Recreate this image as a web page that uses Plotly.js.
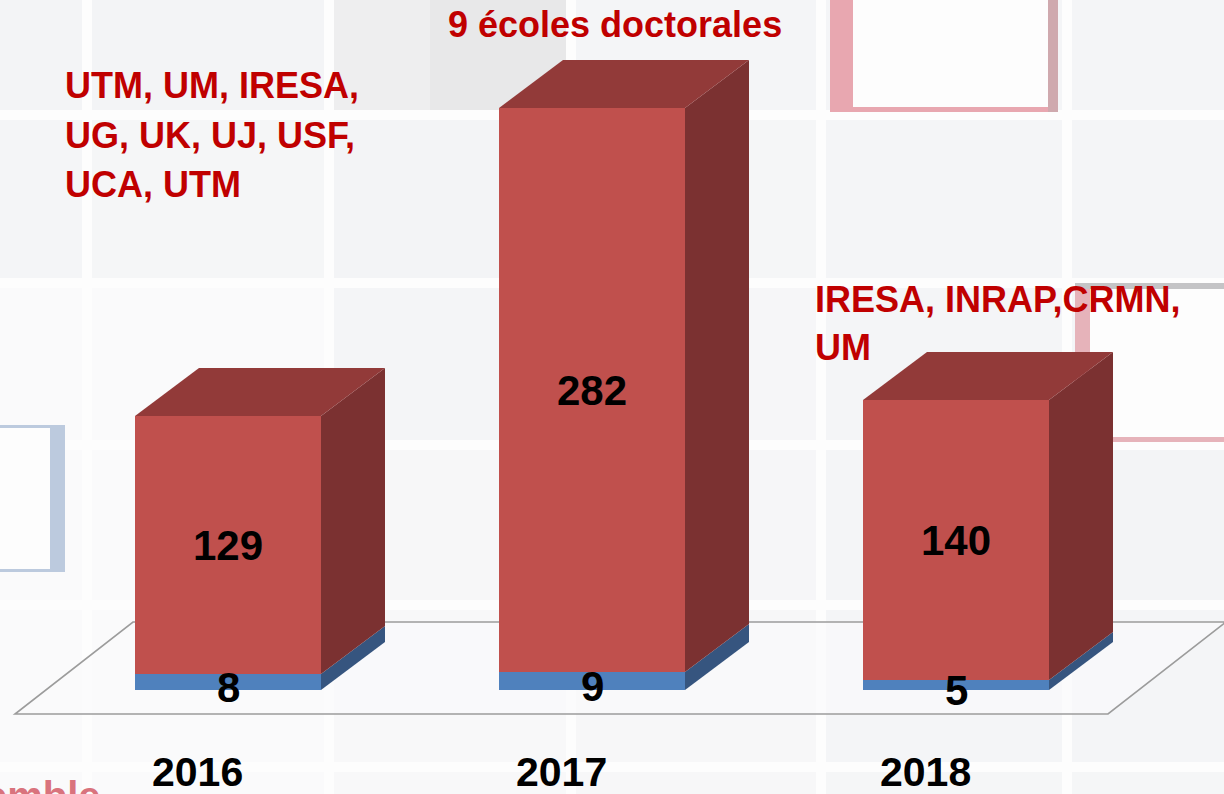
<!DOCTYPE html>
<html>
<head>
<meta charset="utf-8">
<script src="https://cdn.plot.ly/plotly-3.0.1.min.js"></script>
<style>
html,body{margin:0;padding:0;background:#fdfdfd;}
#chart{width:1224px;height:794px;}
</style>
</head>
<body>
<div id="chart"></div>
<script>
// ---------- DATA ----------
const years = ["2016", "2017", "2018"];
const bottomValues = [8, 9, 5];        // blue segment
const topValues = [129, 282, 140];     // red segment
const titleLabel = "9 écoles doctorales";
const leftLabelLines = ["UTM, UM, IRESA,", "UG, UK, UJ, USF,", "UCA, UTM"];
const rightLabelLines = ["IRESA, INRAP,CRMN,", "UM"];
const footerFragment = "emble";

// ---------- GEOMETRY / STYLE ----------
const W = 1224, H = 794;
const pxPerX = 364;              // pixels per category step
const pxPerY = 2;                // pixels per value unit
const basePx = 690;              // pixel row of value 0
const firstCenterPx = 228;       // pixel column of first category
const xMin = -firstCenterPx / pxPerX;
const xMax = xMin + W / pxPerX;
const yMin = -(H - basePx) / pxPerY;
const yMax = basePx / pxPerY;
const barWidth = 186 / pxPerX;
const depthX = 64 / pxPerX;
const depthY = 48 / pxPerY;
const font = "Liberation Sans, Arial, sans-serif";
const darkRed = "#c00000";

const colFront = {blue: "#4f81bd", red: "#c0504d"};
const colSide = {blue: "#36557f", red: "#7b3131"};
const colTop = "#923a39";

const xs = years.map((_, i) => i);

function P(x, y) { return x + "," + y; }
function px(x) { return x / W; }
function py(y) { return 1 - y / H; }

const shapes = [];
function rectPx(x0, x1, y0, y1, color) {
  shapes.push({type: "rect", xref: "paper", yref: "paper", layer: "below",
    x0: px(x0), x1: px(x1), y0: py(y1), y1: py(y0), fillcolor: color, line: {width: 0}});
}
// background tiles (decorative, faint)
const colEdges = [[-10, 82], [92, 324], [334, 566], [576, 816], [826, 1062], [1072, 1240]];
const rowEdges = [[-10, 110], [120, 278], [288, 440], [450, 600], [610, 762], [772, 810]];
const tileShade = [
  ["#f3f4f6", "#f3f4f6", "#f3f4f6", "#f4f5f7", "#f4f5f7", "#f4f5f7"],
  ["#f4f5f7", "#f5f6f7", "#f3f4f6", "#f5f6f7", "#f4f5f7", "#f4f5f7"],
  ["#fafafb", "#fafafb", "#f4f5f7", "#f6f6f8", "#f4f5f7", "#f4f5f7"],
  ["#fafafb", "#fafafb", "#f7f7f8", "#f6f6f8", "#f4f5f7", "#f3f4f6"],
  ["#fafafb", "#fafafb", "#f8f8f9", "#f7f7f8", "#f4f5f7", "#f4f5f7"],
  ["#fafafb", "#fafafb", "#f8f8f9", "#f7f7f8", "#f5f6f7", "#f5f6f7"]
];
rowEdges.forEach((r, ri) => colEdges.forEach((c, ci) => rectPx(c[0], c[1], r[0], r[1], tileShade[ri][ci])));
// darker grey glow top-middle
rectPx(334, 430, -10, 110, "#eeeeef");
rectPx(430, 566, -10, 110, "#e8e8e9");
// pink framed square top
rectPx(830, 1058, -10, 112, "#e8a7b0");
rectPx(1048, 1058, -10, 112, "#cfa9ae");
rectPx(853, 1048, -10, 107, "#fdfdfd");
// pink framed square right
rectPx(1075, 1240, 283, 442, "#e6b3ba");
rectPx(1075, 1240, 283, 289, "#c4c4c6");
rectPx(1090, 1240, 289, 437, "#fdfdfd");
// light blue framed square left
rectPx(-10, 65, 425, 572, "#bccade");
rectPx(-10, 50, 428, 569, "#fdfdfd");

// floor parallelogram
const floorFrontY = -24 / pxPerY, floorBackY = 68 / pxPerY;
const floorLeftX = xMin + 15 / pxPerX, floorRightX = xMin + 1108 / pxPerX;
const floorDX = 118 / pxPerX;
shapes.push({type: "path", xref: "x", yref: "y", layer: "below",
  path: "M" + P(floorLeftX, floorFrontY) + " L" + P(floorRightX, floorFrontY) +
        " L" + P(floorRightX + floorDX, floorBackY) + " L" + P(floorLeftX + floorDX, floorBackY) + " Z",
  fillcolor: "rgba(250,250,251,0.6)", line: {color: "#9c9c9c", width: 1.6}});

// 3D faces built from the data
xs.forEach((x, i) => {
  const left = x - barWidth / 2, right = x + barWidth / 2;
  const b = bottomValues[i], t = bottomValues[i] + topValues[i];
  shapes.push({type: "path", xref: "x", yref: "y", layer: "below",
    path: "M" + P(right, 0) + " L" + P(right + depthX, depthY) + " L" + P(right + depthX, b + depthY) + " L" + P(right, b) + " Z",
    fillcolor: colSide.blue, line: {width: 0}});
  shapes.push({type: "path", xref: "x", yref: "y", layer: "below",
    path: "M" + P(right, b) + " L" + P(right + depthX, b + depthY) + " L" + P(right + depthX, t + depthY) + " L" + P(right, t) + " Z",
    fillcolor: colSide.red, line: {width: 0}});
  shapes.push({type: "path", xref: "x", yref: "y", layer: "below",
    path: "M" + P(left, t) + " L" + P(left + depthX, t + depthY) + " L" + P(right + depthX, t + depthY) + " L" + P(right, t) + " Z",
    fillcolor: colTop, line: {width: 0}});
});

const traces = [
  {type: "bar", x: xs, y: bottomValues, width: barWidth, name: "bottom",
   marker: {color: colFront.blue, line: {width: 0}}, textposition: "none", hoverinfo: "skip"},
  {type: "bar", x: xs, y: topValues, width: barWidth, name: "top",
   marker: {color: colFront.red, line: {width: 0}},
   text: topValues.map(v => "<b>" + v + "</b>"), textposition: "inside",
   insidetextanchor: "middle", constraintext: "none",
   textfont: {family: font, size: 42, color: "#000000"}, hoverinfo: "skip"}
];

const annotations = [];
xs.forEach((x, i) => {
  annotations.push({xref: "x", yref: "y", x: x, y: bottomValues[i] / 2, yshift: -5,
    text: "<b>" + bottomValues[i] + "</b>", showarrow: false,
    font: {family: font, size: 42, color: "#000000"}});
  annotations.push({xref: "x", yref: "y", x: x - 31 / pxPerX, y: (basePx - 772) / pxPerY,
    text: "<b>" + years[i] + "</b>", showarrow: false,
    font: {family: font, size: 41, color: "#000000"}});
});
annotations.push({xref: "paper", yref: "paper", x: px(615), y: py(25), xanchor: "center", yanchor: "middle",
  text: "<b>" + titleLabel + "</b>", showarrow: false, font: {family: font, size: 36, color: darkRed}});
leftLabelLines.forEach((t, k) => annotations.push({xref: "paper", yref: "paper", x: px(63), y: py(85 + 50 * k),
  xanchor: "left", yanchor: "middle", text: "<b>" + t + "</b>", showarrow: false,
  font: {family: font, size: 36, color: darkRed}}));
rightLabelLines.forEach((t, k) => annotations.push({xref: "paper", yref: "paper", x: px(813), y: py(299 + 49 * k),
  xanchor: "left", yanchor: "middle", text: "<b>" + t + "</b>", showarrow: false,
  font: {family: font, size: 36, color: darkRed}}));
annotations.push({xref: "paper", yref: "paper", x: px(103), y: py(772), xanchor: "right", yanchor: "top",
  text: "<b>" + footerFragment + "</b>", showarrow: false, font: {family: font, size: 40, color: "#d9737d"}});

const layout = {
  width: W, height: H,
  margin: {l: 0, r: 0, t: 0, b: 0},
  paper_bgcolor: "#fdfdfd", plot_bgcolor: "rgba(0,0,0,0)",
  barmode: "stack", bargap: 0,
  showlegend: false,
  xaxis: {range: [xMin, xMax], visible: false, fixedrange: true},
  yaxis: {range: [yMin, yMax], visible: false, fixedrange: true},
  shapes: shapes,
  annotations: annotations
};

Plotly.newPlot("chart", traces, layout, {displayModeBar: false, staticPlot: true});
</script>
</body>
</html>
